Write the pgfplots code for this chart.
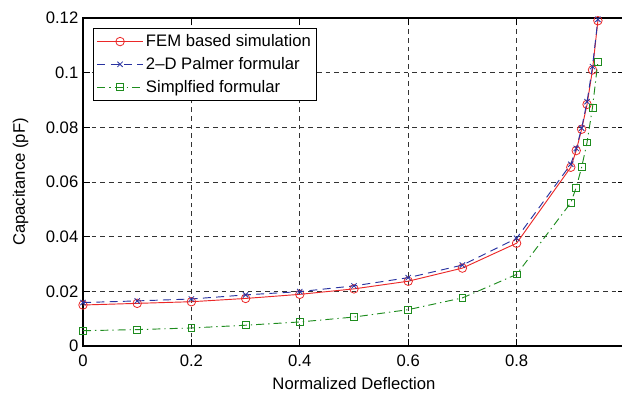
\documentclass[border=0pt]{standalone}
\usepackage{pgfplots}
\pgfplotsset{compat=1.18}
\usepackage{fontspec}
\setmainfont{Liberation Sans}
\definecolor{cred}{RGB}{235,40,40}
\definecolor{cblue}{RGB}{40,50,160}
\definecolor{cgreen}{RGB}{30,140,30}
\begin{document}
\begin{tikzpicture}[font=\fontsize{12.5}{14.5}\selectfont]
\begin{axis}[
  at={(0,0)}, anchor=south west,
  width=406.5pt, height=246pt, scale only axis,
  xmin=0, xmax=1, ymin=0, ymax=0.12,
  xtick={0,0.2,0.4,0.6,0.8},
  ytick={0,0.02,0.04,0.06,0.08,0.1,0.12},
  /pgf/number format/assume math mode=true,
  xticklabel style={/pgf/number format/fixed, yshift=-3pt},
  yticklabel style={/pgf/number format/fixed, /pgf/number format/precision=2},
  scaled y ticks=false, scaled x ticks=false,
  tick align=inside,
  major tick length=5pt,
  axis line style={line width=0.9pt},
  every tick/.style={black, line width=0.6pt},
  grid=major,
  major grid style={black!80, dash pattern=on 3.5pt off 3pt, line width=0.6pt},
  xlabel={Normalized Deflection},
  ylabel={Capacitance (pF)},
  xlabel style={at={(axis description cs:0.5,0)}, anchor=center, yshift=-28pt},
  ylabel style={at={(axis description cs:-0.1154,0.5)}, anchor=center},
  clip mode=individual,
  legend cell align=left,
  legend style={at={(0,1)}, anchor=north west, xshift=7.5pt, yshift=-7.5pt,
    draw=black, line width=0.8pt, inner sep=2.5pt, row sep=2.5pt},
  legend image code/.code={\draw[mark repeat=2,mark phase=2,#1] plot coordinates {(0cm,0cm) (0.6cm,0cm) (1.2cm,0cm)};},
]
\addplot[cred, line width=0.7pt, mark=o, mark size=3.2pt, mark options={solid, line width=0.6pt}] coordinates {
(0,0.0150) (0.1,0.0156) (0.2,0.0162) (0.3,0.0174) (0.4,0.0189) (0.5,0.0209) (0.6,0.0237) (0.7,0.0285) (0.8,0.0376)
(0.9,0.0654) (0.91,0.0715) (0.92,0.0793) (0.93,0.0884) (0.94,0.1010) (0.95,0.1190)};
\addlegendentry{FEM based simulation}
\addplot[cblue, line width=0.7pt, dash pattern=on 6pt off 4pt, mark=x, mark size=2.8pt, mark options={solid, line width=0.6pt}] coordinates {
(0,0.0159) (0.1,0.0165) (0.2,0.0172) (0.3,0.0187) (0.4,0.0199) (0.5,0.0220) (0.6,0.0250) (0.7,0.0296) (0.8,0.0394)
(0.9,0.0665) (0.91,0.0723) (0.92,0.0797) (0.93,0.0894) (0.94,0.1022) (0.95,0.1195)};
\addlegendentry{2\textendash D Palmer formular}
\addplot[cgreen, line width=0.7pt, dash pattern=on 6pt off 3pt on 1pt off 3pt, mark=square, mark size=2.6pt, mark options={solid, line width=0.6pt}] coordinates {
(0,0.0056) (0.1,0.0060) (0.2,0.0066) (0.3,0.0076) (0.4,0.0088) (0.5,0.0106) (0.6,0.0133) (0.7,0.0176) (0.8,0.0262)
(0.9,0.0524) (0.91,0.0580) (0.92,0.0654) (0.93,0.0745) (0.94,0.0872) (0.95,0.1040)};
\addlegendentry{Simplfied formular}
\end{axis}
\pgfresetboundingbox
\path[use as bounding box] (-62.25pt,-36pt) rectangle (404.25pt,259.5pt);
\end{tikzpicture}
\end{document}
